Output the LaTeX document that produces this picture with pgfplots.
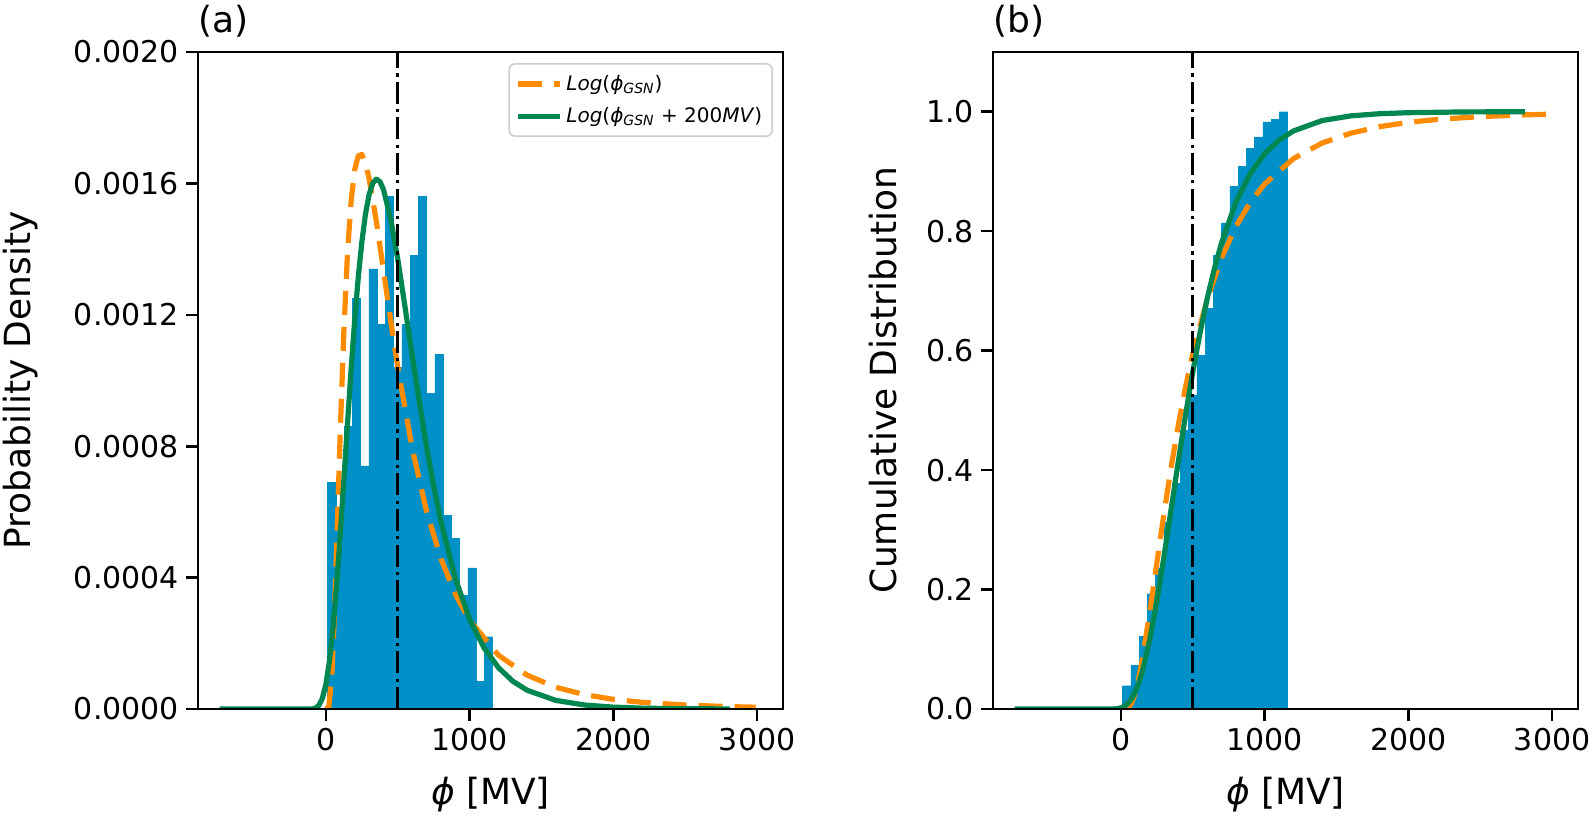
\documentclass[border=0pt]{standalone}
\usepackage{fontspec}
\setmainfont{DejaVu Sans}
\usepackage{pgfplots}
\pgfplotsset{compat=1.18}
\definecolor{histblue}{RGB}{0,144,200}
\definecolor{lnorange}{RGB}{255,140,0}
\definecolor{lngreen}{RGB}{0,134,81}
\definecolor{leggray}{RGB}{204,204,204}

\pgfplotsset{
  myaxis/.style={
    scale only axis, width=292.5pt, height=328.5pt,
    xmin=-890, xmax=3180,
    xtick={0,1000,2000,3000},
    axis line style={line width=1.3pt},
    tick style={line width=1.3pt, black},
    major tick length=6pt, tick align=outside,
    xtick pos=lower, ytick pos=left,
    tick label style={font=\fontsize{15}{18}\selectfont},
    label style={font=\fontsize{18}{21}\selectfont},
    /pgf/number format/assume math mode=true,
    /pgf/number format/1000 sep={},
    scaled ticks=false,
    axis on top,
    xlabel={\textit{ϕ} [MV]},
    xlabel style={at={(axis description cs:0.5,-0.130)}, anchor=center},
    every axis title/.style={at={(axis description cs:0,1)}, anchor=south west, inner sep=0pt, yshift=7pt, font=\fontsize{18}{21}\selectfont},
  },
  vline/.style={black, line width=1.5pt, dash pattern=on 11pt off 2.6pt on 1.6pt off 2.6pt, forget plot},
  orangeln/.style={lnorange, line width=2.6pt, dash pattern=on 12pt off 6pt, line join=round},
  greenln/.style={lngreen, line width=2.6pt, line join=round},
}

\begin{document}
\begin{tikzpicture}
\useasboundingbox (0,0) rectangle (796.5pt,408pt);

% ---------------- panel (a)
\begin{axis}[myaxis,
  at={(99pt,53.5pt)}, anchor=south west,
  ymin=0, ymax=0.002,
  ytick={0,0.0004,0.0008,0.0012,0.0016,0.002},
  yticklabel style={/pgf/number format/.cd, fixed, fixed zerofill, precision=4},
  ylabel={Probability Density},
  ylabel style={at={(axis description cs:-0.304,0.5)}, anchor=center},
  title={(a)},
  legend style={at={(axis description cs:1,1)}, anchor=north east, xshift=-5pt, yshift=-5.5pt,
    draw=leggray, rounded corners=3pt, line width=0.8pt, fill=white,
    font=\fontsize{10}{12}\selectfont, cells={anchor=west}, row sep=3pt,
    inner xsep=3pt, inner ysep=3.5pt},
  legend image code/.code={\draw[#1] (0pt,0pt) -- (21pt,0pt);},
]
\addplot[ybar interval, fill=histblue, draw=histblue, line width=0.2pt, forget plot] coordinates {
(12,0.00069) (69.4,0.00060) (126.8,0.00086) (184.2,0.00125) (241.6,0.00074)
(299,0.00134) (356.4,0.00117) (413.8,0.00156) (471.2,0.00104) (528.6,0.00117)
(586,0.00138) (643.4,0.00156) (700.8,0.00096) (758.2,0.00108) (815.6,0.00059)
(873,0.00052) (930.4,0.000345) (987.8,0.00043) (1045.2,0.000085) (1102.6,0.00022)
(1160,0)
};
\addplot[orangeln] coordinates {
(0,0) (20,0.0000065) (40,0.0000937) (60,0.000299) (80,0.00057) (100,0.000848)
(125,0.001152) (150,0.001386) (175,0.001545) (200,0.001641) (225,0.001684)
(250,0.001688) (275,0.001662) (300,0.001616) (350,0.001487) (400,0.001336)
(450,0.001184) (500,0.00104) (600,0.000794) (700,0.000602) (800,0.000458)
(900,0.00035) (1000,0.00027) (1200,0.000164) (1400,0.000103) (1600,0.0000661)
(1800,0.0000436) (2000,0.0000295) (2200,0.0000203) (2500,0.000012)
(2800,0.0000074) (2990,0.0000055)
};
\addlegendentry{\textit{Log}(\textit{ϕ}\textsubscript{\textit{GSN}})}
\addplot[greenln] coordinates {
(-740,0) (-300,0) (-150,0) (-100,0.0000003) (-75,0.0000023) (-50,0.0000105)
(-25,0.000032) (0,0.0000755) (25,0.000147) (50,0.00025) (75,0.000381)
(100,0.000533) (125,0.000699) (150,0.000868) (175,0.001032) (200,0.001183)
(225,0.001314) (250,0.001422) (275,0.001506) (300,0.001565) (325,0.0016)
(350,0.001613) (375,0.001606) (400,0.001582) (450,0.001493) (500,0.001369)
(550,0.001225) (600,0.001077) (650,0.000934) (700,0.000799) (750,0.000678)
(800,0.000571) (900,0.000398) (1000,0.000273) (1100,0.000186) (1200,0.000126)
(1300,0.0000847) (1400,0.0000571) (1600,0.0000262) (1800,0.0000121)
(2000,0.0000057) (2200,0.0000027) (2400,0.0000013) (2810,0.0000002)
};
\addlegendentry{\textit{Log}(\textit{ϕ}\textsubscript{\textit{GSN}} + 200\textit{MV})}
\addplot[vline] coordinates {(500,0) (500,0.002)};
\end{axis}

% ---------------- panel (b)
\begin{axis}[myaxis,
  at={(496.5pt,53.5pt)}, anchor=south west,
  ymin=0, ymax=1.1,
  ytick={0,0.2,0.4,0.6,0.8,1.0},
  yticklabel style={/pgf/number format/.cd, fixed, fixed zerofill, precision=1},
  ylabel={Cumulative Distribution},
  ylabel style={at={(axis description cs:-0.188,0.5)}, anchor=center},
  title={(b)},
]
\addplot[ybar interval, fill=histblue, draw=histblue, line width=0.2pt, forget plot] coordinates {
(12,0.039) (69.4,0.073) (126.8,0.122) (184.2,0.193) (241.6,0.235)
(299,0.312) (356.4,0.378) (413.8,0.467) (471.2,0.526) (528.6,0.592)
(586,0.671) (643.4,0.759) (700.8,0.814) (758.2,0.875) (815.6,0.909)
(873,0.939) (930.4,0.958) (987.8,0.983) (1045.2,0.987) (1102.6,1.0)
(1160,0)
};
\addplot[orangeln] coordinates {
(0,0) (25,0.00008) (50,0.0022) (75,0.01055) (100,0.0274) (125,0.0525)
(150,0.0844) (200,0.1611) (250,0.245) (300,0.328) (350,0.4057) (400,0.4764)
(450,0.5393) (500,0.5949) (600,0.6861) (700,0.7555) (800,0.8081) (900,0.8483)
(1000,0.8791) (1200,0.9215) (1400,0.9476) (1600,0.9642) (1800,0.975)
(2000,0.9822) (2200,0.9871) (2500,0.9918) (2800,0.9947) (2990,0.9959)
};
\addplot[greenln] coordinates {
(-740,0) (-100,0) (-50,0.00017) (-25,0.00066) (0,0.00195) (25,0.00467)
(50,0.00958) (75,0.0174) (100,0.0288) (125,0.0442) (150,0.0637) (200,0.1153)
(250,0.1807) (300,0.2558) (350,0.3357) (400,0.4158) (450,0.4929) (500,0.5645)
(550,0.6295) (600,0.687) (650,0.7372) (700,0.7805) (800,0.8486) (900,0.8966)
(1000,0.9298) (1100,0.9524) (1200,0.9678) (1400,0.9852) (1600,0.9931)
(1800,0.9967) (2000,0.9984) (2400,0.9997) (2810,1.0)
};
\addplot[vline] coordinates {(500,0) (500,1.1)};
\end{axis}
\end{tikzpicture}
\end{document}
